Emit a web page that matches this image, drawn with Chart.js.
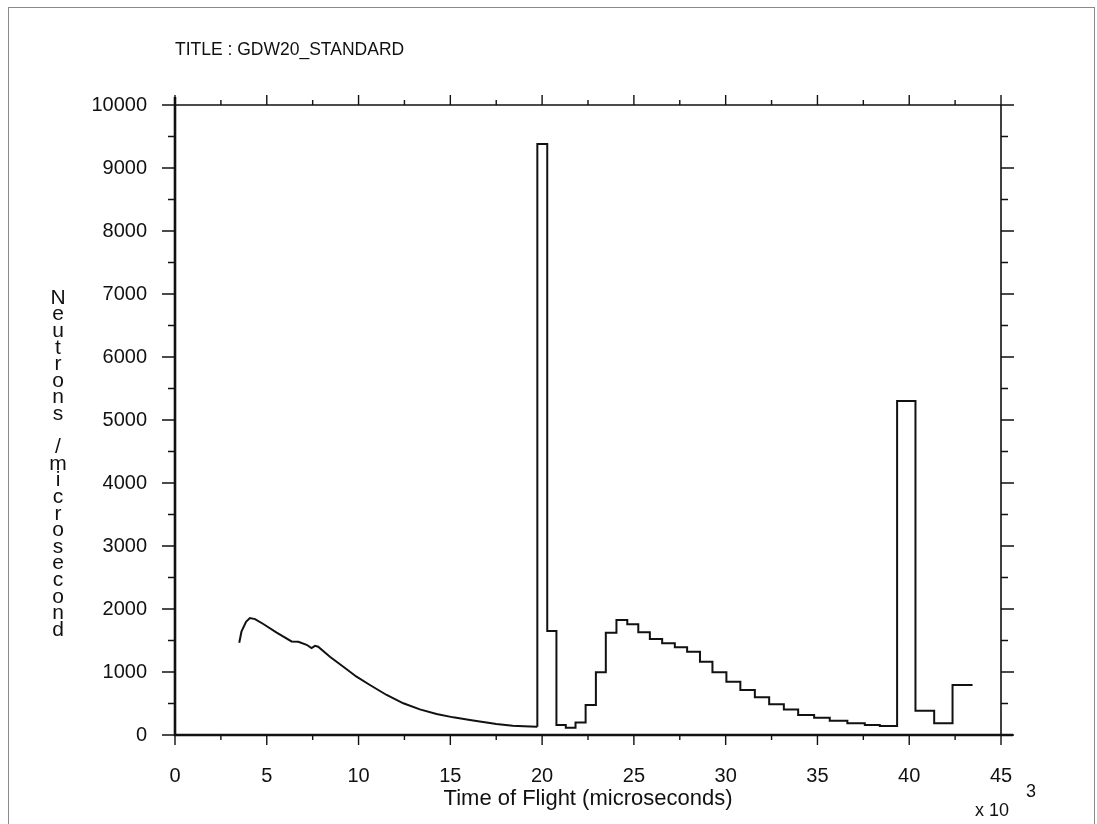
<!DOCTYPE html>
<html>
<head>
<meta charset="utf-8">
<script src="https://cdn.jsdelivr.net/npm/chart.js@4.4.0/dist/chart.umd.min.js"></script>
<style>
  html, body { margin: 0; padding: 0; background: #fff; }
  #wrap { position: relative; width: 1097px; height: 824px; overflow: hidden; }
  #frame { position: absolute; left: 8px; top: 7px; width: 1085px; height: 840px; border: 1px solid #8a8a8a; }
  canvas { position: absolute; left: 0; top: 0; }
</style>
</head>
<body>
<div id="wrap">
  <div id="frame"></div>
  <canvas id="tof" width="1097" height="824"></canvas>
</div>
<script>
// ── DATA ───────────────────────────────────────────────────────────
// fine-binned part, read off as a curve (time in 10^3 microseconds)
const smoothTof = [3.5, 3.62, 3.87, 4.08, 4.36, 4.81, 5.54, 6.35, 6.72, 7.17, 7.44, 7.63, 7.8,
  8.44, 9.17, 9.89, 10.62, 11.53, 12.44, 13.34, 14.25, 15.16, 16.07, 16.6, 17.06, 17.5, 18.4, 19.0, 19.74];
const smoothCounts = [1465, 1640, 1798, 1855, 1840, 1762, 1624, 1485, 1481, 1432, 1380, 1415, 1402,
  1243, 1084, 925, 794, 635, 503, 407, 333, 280, 238, 215, 196, 175, 148, 140, 132];

// coarse bins: left edges (last entry is right edge of last bin) and counts
const binEdges = [19.74, 20.28, 20.78, 21.29, 21.82, 22.37, 22.93, 23.47, 24.05, 24.64, 25.24, 25.87,
  26.54, 27.23, 27.9, 28.6, 29.28, 30.04, 30.8, 31.59, 32.37, 33.17, 33.95, 34.82, 35.67, 36.63,
  37.58, 38.4, 39.34, 40.34, 41.36, 42.36, 43.45];
const binCounts = [9380, 1650, 159, 116, 200, 476, 995, 1624, 1825, 1757, 1630, 1524,
  1455, 1392, 1322, 1164, 995, 846, 714, 598, 487, 405, 317, 275, 227, 185,
  159, 143, 5300, 386, 185, 794];

const xTicks = [0, 5, 10, 15, 20, 25, 30, 35, 40, 45];
const yTicks = [0, 1000, 2000, 3000, 4000, 5000, 6000, 7000, 8000, 9000, 10000];

const TITLE = 'TITLE : GDW20_STANDARD';
const X_TITLE = 'Time of Flight (microseconds)';
const Y_TITLE = 'Neutrons /microsecond';

// ── STYLE ──────────────────────────────────────────────────────────
const INK = '#111111';
const FONT = "'Liberation Sans', Arial, Helvetica, sans-serif";

const smoothPoints = smoothTof.map((t, i) => ({ x: t, y: smoothCounts[i] }));
// histogram as a 'before' stepped line: start where the curve ends, then one point per edge
const stepPoints = [{ x: binEdges[0], y: smoothCounts[smoothCounts.length - 1] }].concat(
  binEdges.map((e, i) => ({ x: e, y: binCounts[Math.min(i, binCounts.length - 1)] }))
);

// ── FRAME, TICKS, EXTRA TEXT ───────────────────────────────────────
const framePlugin = {
  id: 'frame',
  afterDraw(chart) {
    const { ctx, chartArea: { left, right, top, bottom }, scales: { x, y } } = chart;
    ctx.save();
    ctx.strokeStyle = INK;
    ctx.lineCap = 'butt';

    // axis box
    ctx.lineWidth = 2.6;
    ctx.beginPath();
    ctx.moveTo(left, top - 8); ctx.lineTo(left, bottom);
    ctx.lineTo(right + 12, bottom);
    ctx.stroke();
    ctx.lineWidth = 1.6;
    ctx.beginPath();
    ctx.moveTo(left, top); ctx.lineTo(right, top);
    ctx.moveTo(right, top); ctx.lineTo(right, bottom);
    ctx.stroke();

    // x ticks, major + half-step minor, bottom and top
    ctx.lineWidth = 1.4;
    ctx.beginPath();
    xTicks.forEach((v, i) => {
      const px = x.getPixelForValue(v);
      ctx.moveTo(px, bottom); ctx.lineTo(px, bottom + 10);
      ctx.moveTo(px, top); ctx.lineTo(px, top - 10);
      if (i < xTicks.length - 1) {
        const mx = x.getPixelForValue((v + xTicks[i + 1]) / 2);
        ctx.moveTo(mx, bottom); ctx.lineTo(mx, bottom + 5);
        ctx.moveTo(mx, top); ctx.lineTo(mx, top - 5);
      }
    });
    // y ticks, left and right
    yTicks.forEach((v, i) => {
      const py = y.getPixelForValue(v);
      ctx.moveTo(left - 13, py); ctx.lineTo(left, py);
      ctx.moveTo(right, py); ctx.lineTo(right + 13, py);
      if (i < yTicks.length - 1) {
        const my = y.getPixelForValue((v + yTicks[i + 1]) / 2);
        ctx.moveTo(left - 7, my); ctx.lineTo(left, my);
        ctx.moveTo(right, my); ctx.lineTo(right + 7, my);
      }
    });
    ctx.stroke();

    // stacked upright y title
    ctx.fillStyle = INK;
    ctx.textAlign = 'center';
    ctx.textBaseline = 'middle';
    ctx.font = '21px ' + FONT;
    Y_TITLE.split('').forEach((ch, i) => ctx.fillText(ch, 58, 298 + i * 16.6));

    // x 10^3 multiplier
    ctx.font = '18px ' + FONT;
    ctx.fillText('x 10', 992, 811);
    ctx.fillText('3', 1031, 792);
    ctx.restore();
  }
};

// ── CHART ──────────────────────────────────────────────────────────
new Chart(document.getElementById('tof').getContext('2d'), {
  type: 'line',
  data: {
    datasets: [
      {
        data: smoothPoints,
        borderColor: INK,
        borderWidth: 2,
        pointRadius: 0,
        tension: 0,
        fill: false,
      },
      {
        data: stepPoints,
        borderColor: INK,
        borderWidth: 2,
        pointRadius: 0,
        stepped: 'before',
        fill: false,
      }
    ]
  },
  options: {
    responsive: false,
    animation: false,
    layout: { padding: { left: 0, right: 96, top: 0, bottom: 0 } },
    scales: {
      x: {
        type: 'linear',
        min: 0,
        max: 45,
        afterBuildTicks: (s) => { s.ticks = xTicks.map(v => ({ value: v })); },
        afterFit: (s) => { s.height = 89; },
        grid: { display: false, drawTicks: false },
        border: { display: false },
        ticks: { padding: 29, color: INK, font: { family: FONT, size: 20 }, maxRotation: 0,
                 callback: (v) => String(v) },
        title: {
          display: true,
          text: X_TITLE,
          color: INK,
          font: { family: FONT, size: 22 },
          padding: { top: 0, bottom: 12 }
        }
      },
      y: {
        type: 'linear',
        min: 0,
        max: 10000,
        afterBuildTicks: (s) => { s.ticks = yTicks.map(v => ({ value: v })); },
        afterFit: (s) => { s.width = 175; },
        grid: { display: false, drawTicks: false },
        border: { display: false },
        ticks: { padding: 28, color: INK, font: { family: FONT, size: 20 },
                 callback: (v) => String(v) }
      }
    },
    plugins: {
      legend: { display: false },
      tooltip: { enabled: false },
      title: {
        display: true,
        text: TITLE,
        align: 'start',
        fullSize: false,
        color: INK,
        font: { family: FONT, size: 17.5, weight: 'normal' },
        padding: { top: 40, bottom: 44 }
      }
    }
  },
  plugins: [framePlugin]
});
</script>
</body>
</html>
